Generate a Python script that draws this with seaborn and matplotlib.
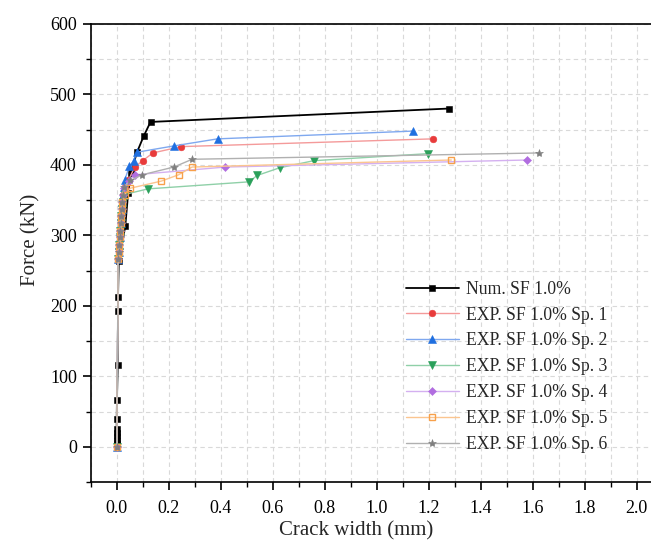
import matplotlib
matplotlib.use("Agg")
import matplotlib.pyplot as plt
import seaborn as sns
import numpy as np
import pandas as pd
from matplotlib.ticker import MultipleLocator, FormatStrFormatter

# ---- data ----
num_x = [0.0, 0.0, 0.0, 0.0, 0.0, 0.0, 0.0, 0.001, 0.004, 0.005, 0.005, 0.008, 0.033, 0.044, 0.055, 0.078, 0.104, 0.13, 1.277]
num_y = [0, 5, 10, 15, 20, 25, 39, 67, 116, 192, 212, 263, 313, 360, 389, 418, 441, 461, 480]

sp1_x = [0.0, 0.006, 0.008, 0.010, 0.012, 0.014, 0.016, 0.018, 0.020, 0.022, 0.025, 0.030, 0.045, 0.069, 0.10, 0.139, 0.248, 1.218]
sp1_y = [0, 266, 276, 286, 297, 306, 317, 327, 338, 348, 358, 368, 378, 397, 406, 417, 426, 437]

sp2_x = [0.0, 0.006, 0.008, 0.010, 0.012, 0.014, 0.016, 0.018, 0.020, 0.022, 0.025, 0.029, 0.031, 0.049, 0.065, 0.078, 0.22, 0.388, 1.139]
sp2_y = [0, 266, 276, 286, 297, 306, 317, 327, 338, 348, 358, 368, 379, 398, 406, 418, 427, 437, 448]

sp3_x = [0.0, 0.006, 0.008, 0.010, 0.012, 0.014, 0.016, 0.018, 0.020, 0.024, 0.030, 0.12, 0.509, 0.54, 0.627, 0.758, 1.198]
sp3_y = [0, 266, 276, 286, 297, 306, 317, 327, 338, 348, 358, 366, 376, 385, 396, 406, 416]

sp4_x = [0.0, 0.006, 0.008, 0.010, 0.012, 0.014, 0.016, 0.018, 0.020, 0.022, 0.025, 0.027, 0.046, 0.069, 0.418, 1.579]
sp4_y = [0, 267, 278, 286, 297, 306, 317, 327, 338, 348, 358, 367, 377, 386, 397, 407]

sp5_x = [0.0, 0.006, 0.008, 0.010, 0.012, 0.014, 0.016, 0.018, 0.020, 0.022, 0.030, 0.053, 0.171, 0.238, 0.29, 1.287]
sp5_y = [0, 266, 276, 286, 297, 306, 317, 327, 338, 348, 358, 367, 377, 386, 397, 407]

sp6_x = [0.0, 0.006, 0.008, 0.010, 0.012, 0.014, 0.016, 0.018, 0.020, 0.022, 0.024, 0.028, 0.053, 0.098, 0.22, 0.29, 1.626]
sp6_y = [0, 266, 276, 286, 297, 306, 317, 327, 338, 348, 358, 368, 378, 386, 397, 408, 417]

labels = ["Num. SF 1.0%", "EXP. SF 1.0% Sp. 1", "EXP. SF 1.0% Sp. 2", "EXP. SF 1.0% Sp. 3",
          "EXP. SF 1.0% Sp. 4", "EXP. SF 1.0% Sp. 5", "EXP. SF 1.0% Sp. 6"]
series = [(num_x, num_y), (sp1_x, sp1_y), (sp2_x, sp2_y), (sp3_x, sp3_y),
          (sp4_x, sp4_y), (sp5_x, sp5_y), (sp6_x, sp6_y)]

# styles
marker_colors = ["#000000", "#e83b3b", "#1f6fe0", "#2aa05a", "#b16de0", "#f7a04a", "#7f7f7f"]
line_colors = ["#000000", "#f49a9a", "#7fa8ef", "#8fd0a8", "#d4b0f0", "#fbc58f", "#b0b0b0"]
markers = ["s", "o", "^", "v", "D", "s", "*"]
msizes = [4.0, 4.8, 5.2, 5.2, 4.4, 4.4, 6.0]
lwidths = [1.3, 1.0, 1.0, 1.0, 1.0, 1.0, 1.0]

sns.set_theme(style="ticks")
plt.rcParams['font.family'] = ['Liberation Serif', 'DejaVu Serif']
plt.rcParams['mathtext.fontset'] = 'stix'

fig = plt.figure(figsize=(6.51, 5.47), dpi=100)
ax = fig.add_axes([90.7 / 651, (547 - 482) / 547, 572 / 651, 458 / 547])

for i, ((xs, ys), lab) in enumerate(zip(series, labels)):
    df = pd.DataFrame({"x": xs, "y": ys})
    sns.lineplot(data=df, x="x", y="y", ax=ax, sort=False, estimator=None,
                 color=line_colors[i], lw=lwidths[i], label=lab,
                 marker=markers[i], markersize=msizes[i],
                 markerfacecolor=("none" if i == 5 else marker_colors[i]),
                 markeredgecolor=marker_colors[i], markeredgewidth=(1.0 if i == 5 else 0.4),
                 zorder=3 + i)

ax.set_xlim(-0.1, 2.1)
ax.set_ylim(-50, 600)
ax.xaxis.set_major_locator(MultipleLocator(0.2))
ax.xaxis.set_minor_locator(MultipleLocator(0.1))
ax.xaxis.set_major_formatter(FormatStrFormatter('%.1f'))
ax.yaxis.set_major_locator(MultipleLocator(100))
ax.yaxis.set_minor_locator(MultipleLocator(50))

ax.grid(which='both', color='#d9d9d9', linestyle=(0, (4, 3)), linewidth=0.8)
ax.set_axisbelow(True)

for sp in ax.spines.values():
    sp.set_linewidth(1.2)
    sp.set_color('black')

ax.tick_params(axis='y', which='major', direction='out', length=6, width=1.2,
               labelsize=13, colors='black', pad=4)
ax.tick_params(axis='x', which='major', direction='out', length=6, width=1.2,
               labelsize=13, colors='black', pad=7)
ax.tick_params(which='minor', direction='out', length=3.5, width=1.0, colors='black')

ax.set_xlabel("Crack width (mm)", fontsize=15)
ax.set_ylabel("Force (kN)", fontsize=15)
ax.xaxis.set_label_coords((356 - 90.7) / 572, -0.085)
ax.yaxis.set_label_coords(-0.088, (482 - 240) / 458)

leg = ax.legend(loc='upper left', bbox_to_anchor=(0.545, 0.447), frameon=False,
                fontsize=12.7, labelspacing=0.5, handlelength=3.0, handletextpad=0.4,
                borderaxespad=0, borderpad=0.2)

fig.savefig("out.png", dpi=100)
